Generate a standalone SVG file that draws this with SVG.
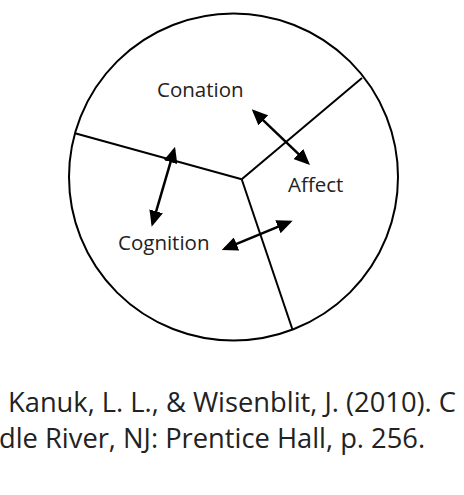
<svg xmlns="http://www.w3.org/2000/svg" width="464" height="495" viewBox="0 0 464 495">
<style>
.outline{fill:none;stroke:#000;stroke-width:2}
.div{fill:none;stroke:#000;stroke-width:2}
.arr{fill:none;stroke:#000;stroke-width:2.5;marker-start:url(#ah);marker-end:url(#ah)}
.lbl{font-family:"Open Sans","Noto Sans",sans-serif;font-size:20.5px;fill:#222}
.ref{font-family:"Open Sans","Noto Sans",sans-serif;font-size:27.3px;fill:#222}
</style>
<defs>
<marker id="ah" viewBox="0 0 16 14" refX="13" refY="7" markerWidth="16" markerHeight="14" markerUnits="userSpaceOnUse" orient="auto-start-reverse">
<path d="M0,0 L16,7 L0,14 z" fill="#000"/>
</marker>
</defs>
<rect width="464" height="495" fill="#fff"/>
<g id="circle">
<ellipse class="outline" cx="233.5" cy="177" rx="164.5" ry="163.5"/>
</g>
<g id="dividers">
<line class="div" x1="241.7" y1="179.3" x2="75" y2="133.3"/>
<line class="div" x1="241.7" y1="179.3" x2="362" y2="78"/>
<line class="div" x1="241.7" y1="179.3" x2="292.3" y2="329"/>
</g>
<g id="conation"><text class="lbl" x="157" y="97.3">Conation</text></g>
<g id="affect"><text class="lbl" x="288" y="192.3">Affect</text></g>
<g id="cognition"><text class="lbl" x="118" y="250">Cognition</text></g>
<g id="connectors">
<line class="arr" x1="253.9" y1="111.4" x2="307.8" y2="162.9"/>
<line class="arr" x1="174.2" y1="149.6" x2="152.5" y2="223.8"/>
<line class="arr" x1="224.5" y1="248.9" x2="289.9" y2="221.8"/>
</g>
<g id="reference">
<text class="ref" x="8" y="411.7">Kanuk, L. L., &amp; Wisenblit, J. (2010). C</text>
<text class="ref" x="-1" y="448.3">dle River, NJ: Prentice Hall, p. 256.</text>
</g>
</svg>
